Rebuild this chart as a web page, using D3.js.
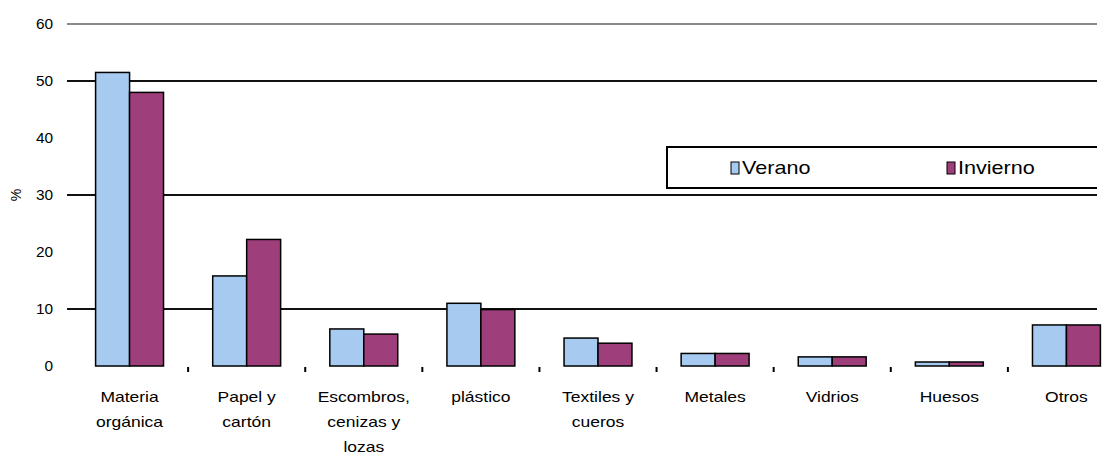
<!DOCTYPE html>
<html><head><meta charset="utf-8">
<script src="https://cdn.jsdelivr.net/npm/d3@7"></script>
<style>body{margin:0;background:#fff}svg{display:block}text{font-family:"Liberation Sans",Arial,sans-serif;fill:#000}</style>
</head><body><svg id="c" width="1111" height="455"></svg>
<script>
const categories = [["Materia","orgánica"],["Papel y","cartón"],["Escombros,","cenizas y","lozas"],["plástico"],["Textiles y","cueros"],["Metales"],["Vidrios"],["Huesos"],["Otros"]];
const catKeys = categories.map(d => d.join(" "));
const verano   = [51.5, 15.8, 6.5, 11.0, 4.9, 2.2, 1.6, 0.7, 7.2];
const invierno = [48.0, 22.2, 5.6, 9.9, 4.0, 2.2, 1.6, 0.7, 7.2];
const seriesNames = ["Verano","Invierno"];
const colors = ["#A6CAF0","#9E3F7B"];
const yTicks = [0,10,20,30,40,50,60];
const gridVals = [10,30,50,60];

const svg = d3.select("#c");
const y = d3.scaleLinear().domain([0,60]).range([366,24]);
const x = d3.scaleBand().domain(catKeys).range([71,1125]).paddingInner(0.42).paddingOuter(0.21);
const xs = d3.scaleBand().domain(seriesNames).range([0,x.bandwidth()]);
const gridX0 = 67, gridX1 = 1097;

// gridlines
svg.append("g").selectAll("line").data(gridVals).join("line")
  .attr("x1",gridX0).attr("x2",gridX1)
  .attr("y1",d=>y(d)).attr("y2",d=>y(d))
  .attr("stroke",d=>d===60?"#8a8a8a":"#111").attr("stroke-width",2);

// y tick labels
svg.append("g").selectAll("text").data(yTicks).join("text")
  .attr("transform",d=>`translate(53,${y(d)+5}) scale(1.1,1)`)
  .attr("text-anchor","end").attr("font-size",14).text(d=>d);

svg.append("text").attr("transform","translate(21,195) rotate(-90)")
  .attr("text-anchor","middle").attr("font-size",14).text("%");

// bars
const data = catKeys.map((k,i)=>({k, vals:[verano[i],invierno[i]]}));
const g = svg.append("g").selectAll("g").data(data).join("g")
  .attr("transform",d=>`translate(${x(d.k)},0)`);
g.selectAll("rect").data(d=>d.vals.map((v,j)=>({v,s:seriesNames[j],c:colors[j]}))).join("rect")
  .attr("x",d=>xs(d.s)).attr("width",xs.bandwidth())
  .attr("y",d=>y(d.v)).attr("height",d=>y(0)-y(d.v))
  .attr("fill",d=>d.c).attr("stroke","#000").attr("stroke-width",1.5);

// category boundary ticks
const bounds = catKeys.slice(1).map(k => x(k) - x.step()*x.paddingInner()/2);
svg.append("g").selectAll("line").data(bounds).join("line")
  .attr("x1",d=>d).attr("x2",d=>d).attr("y1",367).attr("y2",372)
  .attr("stroke","#000").attr("stroke-width",2);

// category labels
const lab = svg.append("g").selectAll("g").data(categories.map((c,i)=>({c,k:catKeys[i]}))).join("g");
lab.each(function(d){
  const cx = x(d.k)+x.bandwidth()/2;
  d3.select(this).selectAll("text").data(d.c).join("text")
    .attr("transform",(t,j)=>`translate(${cx},${402+j*25}) scale(1.25,1)`)
    .attr("text-anchor","middle").attr("font-size",14).text(t=>t);
});

// legend
const lg = svg.append("g");
lg.append("path").attr("d",`M${gridX1},147 H667 V188 H${gridX1}`)
  .attr("fill","none").attr("stroke","#000").attr("stroke-width",2);
const lx = [731, 947];
seriesNames.forEach((s,i)=>{
  lg.append("rect").attr("x",lx[i]).attr("y",162).attr("width",8).attr("height",12)
    .attr("fill",colors[i]).attr("stroke","#000").attr("stroke-width",1);
  lg.append("text").attr("transform",`translate(${lx[i]+11},174) scale(1.2,1)`)
    .attr("font-size",18).text(s);
});
</script></body></html>
